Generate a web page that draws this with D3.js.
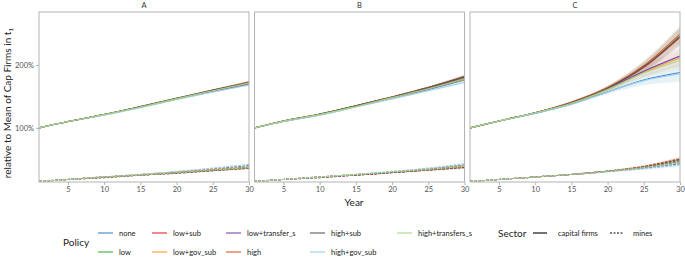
<!DOCTYPE html>
<html>
<head>
<meta charset="utf-8">
<script src="https://cdn.jsdelivr.net/npm/d3@7"></script>
<style>
  body { margin: 0; background: #fff; }
  text { font-family: Lato, "Open Sans", sans-serif; }
</style>
</head>
<body>
<div id="chart"></div>
<script>
const years = [1, 5, 10, 15, 20, 25, 30];
const panels = ["A", "B", "C"];
const policies = ["none", "low", "low+sub", "low+gov_sub", "low+transfer_s",
                  "high", "high+sub", "high+gov_sub", "high+transfers_s"];
const policyColors = ["#3d85c6", "#3cb043", "#e5262c", "#ff9922", "#7b47a8",
                      "#cf5f2a", "#5a5a5a", "#9ccfee", "#a6d784"];
const xTicks = [5, 10, 15, 20, 25, 30];
const yTicks = [100, 200];

// capital firms, one row per policy (order as in policies)
const capA = [
  [100, 110, 121, 133, 146, 158, 169],
  [100, 110, 121, 133, 146, 159, 171],
  [100, 110, 121, 133, 146, 159, 171],
  [100, 110, 121, 133, 146, 158, 170],
  [100, 110, 121, 133, 146, 158, 170],
  [100, 110, 121, 134, 147, 160, 173],
  [100, 110, 121, 134, 147, 160, 172],
  [100, 110, 120, 132, 145, 157, 168],
  [100, 110, 121, 133, 146, 159, 171]
];
const capB = [
  [100, 110, 121, 134, 147, 161, 176],
  [100, 111, 121, 135, 148, 163, 179],
  [100, 111, 121, 135, 149, 164, 181],
  [100, 110, 121, 134, 147, 162, 177],
  [100, 111, 121, 134, 148, 162, 178],
  [100, 111, 122, 135, 149, 164, 182],
  [100, 111, 122, 135, 149, 164, 181],
  [100, 110, 120, 133, 146, 159, 172],
  [100, 111, 121, 134, 148, 162, 178]
];
const capC = [
  [100, 111, 123, 138, 157, 176, 188],
  [100, 111, 124, 140, 163, 197, 246],
  [100, 111, 124, 140, 163, 196, 244],
  [100, 111, 124, 139, 161, 188, 211],
  [100, 111, 124, 140, 162, 190, 214],
  [100, 111, 124, 141, 164, 199, 249],
  [100, 111, 124, 140, 163, 197, 245],
  [100, 111, 123, 137, 157, 175, 186],
  [100, 111, 124, 139, 161, 187, 207]
];

// mines
const minesA = [
  [15, 18, 22, 26, 30, 35, 40],
  [15, 18, 22, 25, 29, 33, 37],
  [15, 18, 22, 25, 29, 33, 37],
  [15, 18, 22, 26, 30, 34, 38],
  [15, 18, 22, 25, 29, 33, 37],
  [15, 18, 21, 25, 28, 32, 36],
  [15, 18, 21, 25, 28, 32, 36],
  [15, 18, 22, 26, 31, 36, 42],
  [15, 18, 22, 25, 29, 33, 37]
];
const minesB = [
  [15, 18, 22, 26, 30, 35, 41],
  [15, 18, 22, 26, 30, 34, 39],
  [15, 18, 22, 25, 29, 33, 38],
  [15, 18, 22, 26, 30, 35, 40],
  [15, 18, 22, 25, 29, 34, 39],
  [15, 18, 21, 25, 29, 33, 37],
  [15, 18, 21, 25, 29, 33, 37],
  [15, 18, 22, 26, 31, 36, 43],
  [15, 18, 22, 26, 30, 34, 39]
];
const minesC = [
  [15, 18, 22, 26, 31, 36, 43],
  [15, 18, 22, 26, 31, 38, 48],
  [15, 18, 22, 26, 31, 38, 50],
  [15, 18, 22, 26, 31, 37, 46],
  [15, 18, 22, 26, 31, 37, 46],
  [15, 18, 22, 26, 31, 39, 51],
  [15, 18, 22, 26, 31, 38, 50],
  [15, 18, 22, 26, 30, 35, 41],
  [15, 18, 22, 26, 31, 37, 45]
];

// half width of the confidence ribbons, per year
const bandCapA = [0, 0.3, 0.6, 1, 1.3, 1.7, 2];
const bandCapB = [0, 0.3, 0.6, 1, 1.4, 2, 3];
const bandCapC = [0, 0.4, 0.8, 1.5, 3.5, 8, 14];
const bandMinesA = [0, 0.3, 0.5, 0.8, 1.1, 1.5, 2];
const bandMinesB = [0, 0.3, 0.5, 0.8, 1.1, 1.6, 2.2];
const bandMinesC = [0, 0.3, 0.5, 0.9, 1.3, 2.2, 3.5];

const capData = [capA, capB, capC];
const minesData = [minesA, minesB, minesC];
const capBands = [bandCapA, bandCapB, bandCapC];
const minesBands = [bandMinesA, bandMinesB, bandMinesC];

const W = 685, H = 258;
const plotLeft = 39, plotRight = 680, plotTop = 12, plotBottom = 182, gap = 5.5;
const panelW = (plotRight - plotLeft - 2 * gap) / 3;

const svg = d3.select("#chart").append("svg")
  .attr("width", W).attr("height", H);

const x = d3.scaleLinear().domain([1, 30]).range([0, panelW]);
const y = d3.scaleLinear().domain([14, 284]).range([plotBottom, plotTop]);
const color = d3.scaleOrdinal().domain(policies).range(policyColors);

const line = d3.line().x(d => x(d.year)).y(d => y(d.v)).curve(d3.curveMonotoneX);
const area = d3.area().x(d => x(d.year)).y0(d => y(d.v - d.b)).y1(d => y(d.v + d.b))
  .curve(d3.curveMonotoneX);

function series(rows, band) {
  return rows.map((vals, i) => ({
    policy: policies[i],
    pts: years.map((yr, j) => ({ year: yr, v: vals[j], b: band[j] }))
  }));
}

panels.forEach((name, p) => {
  const x0 = plotLeft + p * (panelW + gap);
  const g = svg.append("g").attr("transform", `translate(${x0},0)`);

  g.append("clipPath").attr("id", "clip" + p)
    .append("rect").attr("x", 0).attr("y", plotTop).attr("width", panelW).attr("height", plotBottom - plotTop);

  // strip label
  g.append("text")
    .attr("x", panelW / 2).attr("y", 7.5)
    .attr("text-anchor", "middle")
    .attr("fill", "#333").style("font-size", "7.5px")
    .text(name);

  const body = g.append("g").attr("clip-path", `url(#clip${p})`);
  const cap = series(capData[p], capBands[p]);
  const mines = series(minesData[p], minesBands[p]);

  // ribbons
  body.selectAll(".rib").data(cap.concat(mines)).enter()
    .append("path")
    .attr("d", d => area(d.pts))
    .attr("fill", d => color(d.policy))
    .attr("fill-opacity", 0.09);

  // lines
  body.selectAll(".cap").data(cap).enter()
    .append("path")
    .attr("d", d => line(d.pts))
    .attr("fill", "none")
    .attr("stroke", d => color(d.policy))
    .attr("stroke-width", 1.1);

  body.selectAll(".mine").data(mines).enter()
    .append("path")
    .attr("d", d => line(d.pts))
    .attr("fill", "none")
    .attr("stroke", d => color(d.policy))
    .attr("stroke-width", 1.1)
    .attr("stroke-dasharray", "2.5,1.5");

  // border
  g.append("rect")
    .attr("x", 0).attr("y", plotTop).attr("width", panelW).attr("height", plotBottom - plotTop)
    .attr("fill", "none").attr("stroke", "#b3b3b3").attr("stroke-width", 1);

  // x axis
  const xa = g.append("g").attr("transform", `translate(0,${plotBottom})`)
    .call(d3.axisBottom(x).tickValues(xTicks).tickSize(3).tickPadding(2));
  xa.select(".domain").remove();
  xa.selectAll("line").attr("stroke", "#b3b3b3");
  xa.selectAll("text").attr("fill", "#555").style("font-size", "7.5px")
    .style("font-family", "Lato, sans-serif");

  if (p === 0) {
    const ya = g.append("g")
      .call(d3.axisLeft(y).tickValues(yTicks).tickSize(3).tickPadding(2).tickFormat(d => d + "%"));
    ya.select(".domain").remove();
    ya.selectAll("line").attr("stroke", "#b3b3b3");
    ya.selectAll("text").attr("fill", "#555").style("font-size", "7.5px")
      .style("font-family", "Lato, sans-serif");
  }
});

// axis titles
svg.append("text")
  .attr("x", 354).attr("y", 206)
  .attr("text-anchor", "middle")
  .style("font-size", "10px").attr("fill", "#222")
  .text("Year");

const yl = svg.append("text")
  .attr("transform", `translate(11,103) rotate(-90)`)
  .attr("text-anchor", "middle")
  .style("font-size", "10px").attr("fill", "#222");
yl.append("tspan").text("relative to Mean of Cap Firms in t");
yl.append("tspan").attr("dy", 2).style("font-size", "6.5px").text("1");

// Policy legend
svg.append("text")
  .attr("x", 63).attr("y", 246)
  .style("font-size", "10px").attr("fill", "#222")
  .text("Policy");

const colX = [98, 152, 226, 310, 397];
const rowY = [233, 252];
const leg = svg.selectAll(".leg").data(policies).enter()
  .append("g")
  .attr("transform", (d, i) => `translate(${colX[Math.floor(i / 2)]},${rowY[i % 2]})`);
leg.append("line")
  .attr("x1", 0).attr("x2", 15).attr("y1", 0).attr("y2", 0)
  .attr("stroke", d => color(d)).attr("stroke-width", 1.1);
leg.append("text")
  .attr("x", 21).attr("y", 2.5)
  .style("font-size", "7.5px").attr("fill", "#222")
  .text(d => d);

// Sector legend
const sectors = ["capital firms", "mines"];
svg.append("text")
  .attr("x", 498).attr("y", 237)
  .style("font-size", "10px").attr("fill", "#222")
  .text("Sector");
const sX = [533, 610];
const sl = svg.selectAll(".sleg").data(sectors).enter()
  .append("g")
  .attr("transform", (d, i) => `translate(${sX[i]},${rowY[0]})`);
sl.append("line")
  .attr("x1", 0).attr("x2", 14).attr("y1", 0).attr("y2", 0)
  .attr("stroke", "#000").attr("stroke-width", 1.1)
  .attr("stroke-dasharray", (d, i) => i === 0 ? null : "2,1.5");
sl.append("text")
  .attr("x", (d, i) => i === 0 ? 25 : 23).attr("y", 2.5)
  .style("font-size", "7.5px").attr("fill", "#222")
  .text(d => d);
</script>
</body>
</html>
